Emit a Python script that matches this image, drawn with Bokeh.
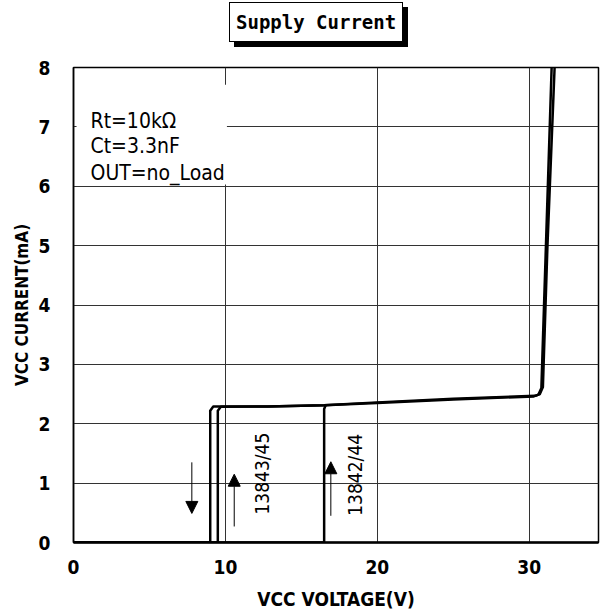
import math
from bokeh.plotting import figure
from bokeh.models import Div, Label, Arrow, NormalHead, BoxAnnotation, FixedTicker, Range1d
from bokeh.layouts import column
from bokeh.embed import file_html
from bokeh.resources import INLINE

# ---- data ----
x_ticks = [0, 10, 20, 30]
y_ticks = [0, 1, 2, 3, 4, 5, 6, 7, 8]

# 13843/45 start-up path (rising)
v_up_4345 = [0, 9.5, 9.5, 9.7, 12.8, 16.5, 20.0, 25.0, 30.3, 30.6, 30.8, 31.1, 31.5]
i_up_4345 = [0, 0, 2.22, 2.285, 2.29, 2.31, 2.35, 2.41, 2.46, 2.49, 2.6, 5.0, 8.2]

# shut-down path (falling)
v_dn = [31.67, 31.2, 30.9, 30.7, 30.4, 25.0, 20.0, 16.5, 12.8, 9.2, 9.0, 9.0, 0]
i_dn = [8.0, 5.0, 2.62, 2.5, 2.47, 2.42, 2.36, 2.31, 2.29, 2.29, 2.22, 0, 0]

# 13842/44 start-up path (rising)
v_up_4244 = [0, 16.5, 16.5, 16.6]
i_up_4244 = [0, 0, 2.25, 2.31]

FONT = "DejaVu Sans Condensed, Liberation Sans Narrow, Liberation Sans, sans-serif"

p = figure(width=600, height=559, output_backend="svg", toolbar_location=None,
           x_range=Range1d(0, 34.56), y_range=Range1d(0, 8),
           min_border_left=73, min_border_right=2, min_border_top=12, min_border_bottom=72)

p.outline_line_color = "black"
p.outline_line_width = 1.5
p.background_fill_color = "white"

p.xaxis.ticker = FixedTicker(ticks=x_ticks)
p.yaxis.ticker = FixedTicker(ticks=y_ticks)
p.xgrid.ticker = FixedTicker(ticks=x_ticks)
p.ygrid.ticker = FixedTicker(ticks=y_ticks)
p.grid.grid_line_color = "#333333"
p.grid.grid_line_width = 1

for ax in (p.xaxis[0], p.yaxis[0]):
    ax.major_tick_in = 0
    ax.major_tick_out = 0
    ax.minor_tick_in = 0
    ax.minor_tick_out = 0
    ax.major_label_text_font = FONT
    ax.major_label_text_font_style = "bold"
    ax.major_label_text_font_size = "19px"
    ax.major_label_text_color = "black"
    ax.axis_label_text_font = FONT
    ax.axis_label_text_font_style = "bold"
    ax.axis_label_text_color = "black"
    ax.axis_line_color = "black"

p.xaxis.axis_label_text_font_size = "19px"
p.yaxis.axis_label_text_font_size = "17px"
p.xaxis.axis_line_width = 2.5
p.yaxis.axis_line_width = 1.5
p.xaxis.major_label_standoff = 17
p.xaxis.axis_label_standoff = 11
p.yaxis.major_label_standoff = 23
p.yaxis.axis_label_standoff = 4
p.xaxis.axis_label = "VCC VOLTAGE(V)"
p.yaxis.axis_label = "VCC CURRENT(mA)"
p.yaxis.major_label_orientation = "horizontal"

# curves
p.line(v_up_4345, i_up_4345, line_color="black", line_width=2.5, line_join="round")
p.line(v_dn, i_dn, line_color="black", line_width=2.5, line_join="round")
p.line(v_up_4244, i_up_4244, line_color="black", line_width=2.5, line_join="round")

# white panel behind the conditions text
p.add_layout(BoxAnnotation(left=0.2, right=10.1, bottom=6.03, top=7.71,
                           fill_color="white", fill_alpha=1.0, line_color=None))

cond = ["Rt=10kΩ", "Ct=3.3nF", "OUT=no_Load"]
cond_y = [7.107, 6.67, 6.215]
for t, yy in zip(cond, cond_y):
    p.add_layout(Label(x=1.12, y=yy, text=t, text_font=FONT, text_font_size="21px",
                       text_color="black", text_baseline="alphabetic", text_align="left"))

# rotated part labels
p.add_layout(Label(x=12.41, y=1.16, text="13843/45", angle=math.pi / 2,
                   text_font=FONT, text_font_size="19px", text_color="black",
                   text_align="center", text_baseline="middle"))
p.add_layout(Label(x=18.53, y=1.14, text="13842/44", angle=math.pi / 2,
                   text_font=FONT, text_font_size="19px", text_color="black",
                   text_align="center", text_baseline="middle"))

# arrows
def arrow(x0, y0, x1, y1):
    p.add_layout(Arrow(end=NormalHead(size=12, fill_color="black", line_color="black", line_width=1),
                       x_start=x0, y_start=y0, x_end=x1, y_end=y1,
                       line_color="black", line_width=1))

arrow(7.79, 1.35, 7.79, 0.49)
arrow(10.58, 0.27, 10.58, 1.15)
arrow(16.94, 0.45, 16.94, 1.36)

title = Div(text=(
    '<div style="position:relative; top:-3px; left:224px; display:inline-block; '
    'border:1px solid #000; box-shadow:5px 5px 0 #000; background:#fff; '
    'padding:7px 6px 7px 6px; font-family:\'DejaVu Sans Mono\'; font-size:19px; '
    'font-weight:bold; line-height:24px; color:#000; white-space:nowrap;">Supply Current</div>'),
    width=600, height=45)

layout = column(title, p, spacing=0)

open("out.html", "w").write(file_html(layout, INLINE))
